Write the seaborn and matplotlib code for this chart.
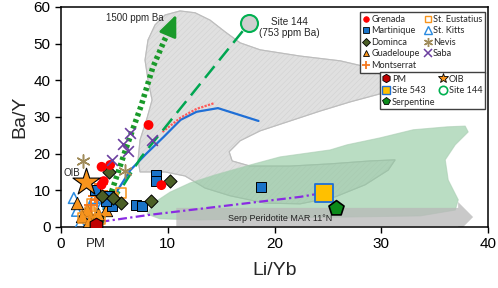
import numpy as np
import pandas as pd
import matplotlib
matplotlib.use('Agg')
import matplotlib.pyplot as plt
import seaborn as sns
from matplotlib.patches import Polygon, FancyArrow
from matplotlib.lines import Line2D

sns.set_style('ticks')
plt.rcParams['font.family'] = ['Liberation Sans', 'DejaVu Sans']
plt.rcParams['hatch.linewidth'] = 0.35

# ---------------- data (Li/Yb, Ba/Y) ----------------
grenada_x = [3.8, 4.6, 4.0, 3.8, 9.4, 8.2]
grenada_y = [16.4, 16.9, 12.5, 11.5, 11.4, 27.8]
martinique_x = [8.9, 8.9, 7.0, 7.6, 3.2, 4.5, 4.8, 18.7, 4.2]
martinique_y = [14.1, 12.5, 5.9, 5.6, 10.2, 8.4, 5.6, 10.8, 7.0]
dominica_x = [4.5, 10.2, 8.4, 5.6, 3.8, 4.9]
dominica_y = [15.0, 12.5, 7.2, 6.6, 8.4, 7.8]
guadeloupe_x = [1.5, 2.4, 4.2, 2.0, 3.0, 3.5, 2.6]
guadeloupe_y = [6.5, 4.7, 4.7, 3.0, 2.0, 3.5, 1.5]
montserrat_x = [3.7, 3.2, 3.4, 3.7, 2.8]
montserrat_y = [11.7, 8.4, 7.4, 9.7, 6.0]
steustatius_x = [5.6, 4.9, 2.9, 2.4, 2.1, 3.2, 2.7, 3.6]
steustatius_y = [9.3, 7.9, 6.3, 3.0, 2.4, 3.0, 4.0, 2.2]
stkitts_x = [1.2, 3.1, 3.7, 1.5, 1.8]
stkitts_y = [7.9, 7.9, 5.2, 4.4, 1.0]
nevis_x = [2.1, 6.0]
nevis_y = [17.9, 15.2]
saba_x = [5.8, 6.3, 6.5, 8.5, 4.8]
saba_y = [22.6, 20.8, 25.6, 23.6, 18.2]

pm_xy = [3.3, 0.4]
oib_xy = [2.35, 12.3]
site543_xy = [24.6, 9.3]
site144_xy = [17.6, 55.5]
serpentine_xy = [25.8, 5.2]

# model / mixing lines
dotted_x = [3.7, 4.9, 6.1, 7.5, 8.6, 9.7, 10.35]
dotted_y = [1.0, 11.0, 21.5, 33.0, 43.5, 51.0, 54.8]
arrow_tip = [10.9, 58.6]
dashed_x = [3.6, 7.5, 17.6]
dashed_y = [1.0, 19.0, 55.5]
blue_x = [3.8, 5.3, 6.5, 8.0, 9.6, 11.2, 12.7, 14.7, 18.5]
blue_y = [2.0, 10.0, 15.5, 20.0, 24.5, 29.2, 31.4, 32.4, 28.9]
red_x = [9.5, 11.2, 12.7, 14.4]
red_y = [25.9, 29.8, 32.2, 33.8]
purple_x = [3.7, 8.3, 22.4, 24.6]
purple_y = [1.4, 3.3, 8.2, 9.3]

# fields
gray_field_x = [7.40, 7.22, 7.40, 8.06, 8.53, 8.15, 7.87, 8.15, 8.81, 9.75, 11.15, 12.56, 13.96,
                15.37, 16.78, 18.65, 22.40, 26.15, 28.96, 30.37, 30.74, 29.90, 27.09, 24.27,
                21.46, 18.65, 16.78, 15.75, 16.03, 17.71, 21.46, 25.21, 28.96, 31.30, 30.65,
                28.49, 25.68, 22.40, 19.12, 15.84, 13.50, 11.62, 9.75]
gray_field_y = [15.0, 18.3, 23.7, 29.7, 34.6, 40.1, 45.5, 51.0, 55.1, 57.8, 58.9, 58.4, 56.4,
                53.2, 50.2, 48.3, 46.6, 45.3, 43.4, 40.6, 37.9, 36.3, 34.1, 31.6,
                28.9, 26.2, 23.5, 20.5, 18.0, 16.6, 16.6, 17.2, 18.0, 18.3, 15.5,
                11.5, 8.2, 6.3, 6.5, 8.5, 10.6, 13.9, 15.0]
green_field_x = [8.06, 8.81, 10.22, 12.09, 14.43, 17.71, 20.52, 25.21, 26.80, 29.90, 32.99,
                 36.18, 37.86, 38.14, 36.93, 35.99, 36.27, 37.21, 36.93, 33.65, 22.40, 13.03, 9.28]
green_field_y = [3.5, 6.8, 9.5, 12.0, 14.2, 16.9, 19.1, 21.0, 22.4, 24.3, 26.5,
                 27.3, 27.5, 25.9, 22.4, 18.3, 12.8, 7.4, 4.6, 3.0, 2.5, 1.9, 2.2]
serp_arrow_x = [10.8, 38.6]
serp_arrow_y = 2.7

# ---------------- figure ----------------
fig = plt.figure(figsize=(4.98, 2.88), dpi=100)
ax = fig.add_axes([0.1225, 0.212, 0.8575, 0.764])
ax.set_xlim(0, 40)
ax.set_ylim(0, 60)

# fields
ax.add_patch(Polygon(np.column_stack([gray_field_x, gray_field_y]), closed=True,
                     facecolor='#e0e0e0', edgecolor='#d0d0d0', lw=0.8, hatch='//////',
                     zorder=0.5))
ax.add_patch(Polygon(np.column_stack([gray_field_x, gray_field_y]), closed=True,
                     facecolor='none', edgecolor='#bdbdbd', lw=0.8, zorder=0.55))
ax.add_patch(Polygon(np.column_stack([green_field_x, green_field_y]), closed=True,
                     facecolor='#8cc79c', edgecolor='#a9cdb2', lw=0.8, alpha=0.6, zorder=0.6))
ax.add_patch(FancyArrow(serp_arrow_x[0], serp_arrow_y, serp_arrow_x[1] - serp_arrow_x[0], 0,
                        width=5.0, head_width=8.2, head_length=1.4, length_includes_head=True,
                        facecolor='#b8b8b8', edgecolor='none', alpha=0.75, zorder=0.7))
ax.text(15.6, 2.4, 'Serp Peridotite MAR 11°N', fontsize=6.5, ha='left', va='center',
        color='#222222', zorder=0.8)

# lines
sns.lineplot(x=purple_x, y=purple_y, sort=False, color='#8a2be2', lw=1.6,
             linestyle=(0, (4, 1.5, 1, 1.5)), ax=ax, zorder=2)
sns.lineplot(x=blue_x, y=blue_y, sort=False, color='#1f6fd6', lw=1.6, ax=ax, zorder=2)
sns.lineplot(x=red_x, y=red_y, sort=False, color='#ff5a5a', lw=1.6,
             linestyle=(0, (1, 0.6)), ax=ax, zorder=2)
sns.lineplot(x=dashed_x, y=dashed_y, sort=False, color='#00a651', lw=1.8,
             linestyle=(0, (6, 3)), ax=ax, zorder=2)
sns.lineplot(x=dotted_x, y=dotted_y, sort=False, color='#1a9a2a', lw=4.0,
             linestyle=(0, (0.6, 0.6)), ax=ax, zorder=2)
ax.annotate('', xy=arrow_tip, xytext=(dotted_x[-1], dotted_y[-1]),
            arrowprops=dict(arrowstyle='-|>,head_length=1.3,head_width=0.55',
                            color='#1a9a2a', lw=2), zorder=2)
ax.text(6.9, 57.0, '1500 ppm Ba', fontsize=7, ha='center', va='center')

# island scatter
def sc(x, y, **kw):
    sns.scatterplot(x=x, y=y, ax=ax, zorder=3, legend=False, **kw)

sc(stkitts_x, stkitts_y, marker='^', s=60, facecolor='none', edgecolor='#2a8be0', linewidth=1.1)
sc(guadeloupe_x, guadeloupe_y, marker='^', s=80, color='#f7941d', edgecolor='black', linewidth=0.6)
sc(steustatius_x, steustatius_y, marker='s', s=55, facecolor='none', edgecolor='#f7941d', linewidth=1.1)
sc(montserrat_x, montserrat_y, marker='+', s=90, color='#f47920', linewidth=1.4)
sc(martinique_x, martinique_y, marker='s', s=45, color='#1a73c8', edgecolor='black', linewidth=0.7)
sc(dominica_x, dominica_y, marker='D', s=45, color='#4b5f26', edgecolor='black', linewidth=0.7)
sc(grenada_x, grenada_y, marker='o', s=50, color='#ff0000', edgecolor='none')
sc(nevis_x, nevis_y, marker=(6, 2, 0), s=90, color='#a08c5b', linewidth=1.1)
sc(saba_x, saba_y, marker='x', s=60, color='#6b3fa0', linewidth=1.2)

# reference compositions
sc([pm_xy[0]], [pm_xy[1]], marker='h', s=110, color='#c00000', edgecolor='black', linewidth=0.8)
sc([oib_xy[0]], [oib_xy[1]], marker='*', s=420, color='#f7941d', edgecolor='black', linewidth=0.8)
sc([site543_xy[0]], [site543_xy[1]], marker='s', s=170, color='#ffc000', edgecolor='#1f6fd6', linewidth=1.3)
sc([serpentine_xy[0]], [serpentine_xy[1]], marker='p', s=130, color='#0b8a1a', edgecolor='black', linewidth=1.2)
sc([site144_xy[0]], [site144_xy[1]], marker='o', s=150, color='#cfcfcf', edgecolor='#00b050', linewidth=1.5)

ax.text(21.4, 54.4, 'Site 144\n(753 ppm Ba)', fontsize=7.2, ha='center', va='center',
        multialignment='center', linespacing=1.15)
ax.text(1.0, 14.6, 'OIB', fontsize=7, ha='center', va='center')
ax.text(pm_xy[0], -4.6, 'PM', fontsize=9.5, ha='center', va='center', clip_on=False)

# axes styling
ax.set_xticks([0, 10, 20, 30, 40])
ax.set_yticks([0, 10, 20, 30, 40, 50, 60])
ax.tick_params(direction='out', length=4, width=1, labelsize=11, colors='black')
for s in ax.spines.values():
    s.set_linewidth(1.1)
    s.set_color('black')
ax.set_xlabel('Li/Yb', fontsize=14, labelpad=8)
ax.set_ylabel('Ba/Y', fontsize=14, labelpad=4)

# legends
leg_font = {'family': ['Lato', 'DejaVu Sans'], 'size': 6.6}

def h(marker, fc, ec, ms=5, mew=0.6):
    return Line2D([], [], linestyle='none', marker=marker, markerfacecolor=fc,
                  markeredgecolor=ec, markersize=ms, markeredgewidth=mew)

leg1_labels = ['Grenada', 'Martinique', 'Dominca', 'Guadeloupe', 'Montserrat',
               'St. Eustatius', 'St. Kitts', 'Nevis', 'Saba']
leg1_handles = [h('o', '#ff0000', '#ff0000', 4),
                h('s', '#1a73c8', 'black', 4.5),
                h('D', '#4b5f26', 'black', 4),
                h('^', '#f7941d', 'black', 5),
                h('+', '#f47920', '#f47920', 6, 1.3),
                h('s', 'none', '#f7941d', 5, 1),
                h('^', 'none', '#2a8be0', 5.5, 1),
                h((6, 2, 0), '#a08c5b', '#a08c5b', 6.5, 1),
                h('x', '#6b3fa0', '#6b3fa0', 5.5, 1.1)]
leg1 = ax.legend(leg1_handles, leg1_labels, ncol=2, loc='upper right',
                 bbox_to_anchor=(0.993, 0.977), prop=leg_font, frameon=True, fancybox=False,
                 edgecolor='#404040', framealpha=1, borderpad=0.3, labelspacing=0.28,
                 handlelength=0.7, handletextpad=0.25, columnspacing=0.5, borderaxespad=0)
leg1.get_frame().set_linewidth(1.0)
ax.add_artist(leg1)

leg2_labels = ['PM', 'Site 543', 'Serpentine', 'OIB', 'Site 144']
leg2_handles = [h('h', '#c00000', 'black', 6),
                h('s', '#ffc000', '#1f6fd6', 6, 1),
                h('p', '#0b8a1a', 'black', 6),
                h('*', '#f7941d', 'black', 7),
                h('o', 'none', '#00b050', 6, 1.2)]
leg2 = ax.legend(leg2_handles, leg2_labels, ncol=2, loc='upper right',
                 bbox_to_anchor=(0.993, 0.705), prop=leg_font, frameon=True, fancybox=False,
                 edgecolor='#404040', framealpha=1, borderpad=0.3, labelspacing=0.28,
                 handlelength=0.7, handletextpad=0.25, columnspacing=0.5, borderaxespad=0)
leg2.get_frame().set_linewidth(1.0)

fig.savefig('out.png', dpi=100)
